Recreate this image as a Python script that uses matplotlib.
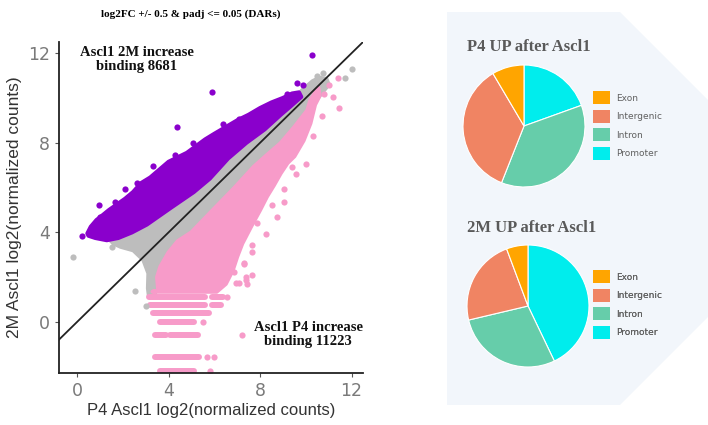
import matplotlib
matplotlib.use("Agg")
import matplotlib.pyplot as plt
from matplotlib.patches import Polygon, Patch

# ---------------- scatter data (log2 normalized counts) ----------------
# Dense clouds are drawn as filled outlines (P4 value, 2M value)
grey_outline_x = [1.3, 1.8, 2.4, 3.05, 4.1, 5.1, 5.8, 6.6, 7.4, 8.2, 8.9, 9.4, 9.9, 10.3, 10.6, 10.9,
                  11.0, 10.6, 10.0, 8.9, 7.7, 6.8, 5.8, 4.5, 4.0, 3.6, 3.45, 3.4, 3.15, 3.1, 3.12,
                  2.9, 2.46, 1.9, 1.6, 1.45]
grey_outline_y = [3.75, 3.85, 4.15, 4.5, 5.25, 5.95, 6.55, 7.45, 8.15, 8.75, 9.4, 9.9, 10.4, 10.75, 10.9, 10.85,
                  10.6, 10.1, 9.25, 7.85, 6.75, 5.75, 4.7, 3.35, 3.0, 2.4, 1.8, 1.2, 1.1, 1.5, 2.17,
                  2.77, 3.2, 3.36, 3.5, 3.65]

purple_outline_x = [0.45, 0.6, 0.85, 1.1, 1.4, 1.75, 2.1, 2.45, 2.8, 3.2, 3.6, 4.0, 4.4, 4.8, 5.2, 5.6,
                    6.0, 6.5, 7.0, 7.5, 8.0, 8.5, 9.0, 9.4, 9.7,
                    9.8, 9.3, 8.9, 8.2, 7.4, 6.6, 5.8, 5.1, 4.1, 3.05, 2.4, 1.8, 1.3, 0.8, 0.5]
purple_outline_y = [3.95, 4.25, 4.55, 4.75, 5.0, 5.25, 5.5, 5.8, 6.2, 6.45, 6.8, 7.15, 7.35, 7.55, 7.85, 8.15,
                    8.4, 8.7, 9.0, 9.25, 9.55, 9.8, 10.0, 10.2, 10.25,
                    10.05, 9.6, 9.25, 8.6, 8.0, 7.3, 6.4, 5.8, 5.1, 4.35, 4.0, 3.75, 3.65, 3.75, 3.85]

pink_outline_x = [10.55, 10.2, 10.07, 9.5, 8.9, 8.3, 7.73, 6.85, 5.83, 5.0, 4.4, 4.0, 3.64, 3.5, 3.55, 3.3,
                  6.1, 6.5, 6.8, 7.0, 7.22, 7.6, 8.0, 8.3, 8.6, 8.9, 9.2, 9.5, 9.9, 10.2, 10.4, 10.6]
pink_outline_y = [10.45, 9.9, 9.45, 8.7, 7.98, 7.45, 6.93, 5.95, 4.88, 4.0, 3.6, 3.1, 2.46, 2.0, 1.4, 1.35,
                  1.35, 1.7, 2.3, 2.92, 3.5, 4.25, 5.0, 5.6, 6.1, 6.64, 7.1, 7.4, 8.1, 8.87, 9.7, 10.1]

# Low-count peaks sit on discrete 2M levels (rows of points)
pink_row_y = [1.12, 1.12, 0.76, 0.76, 0.40, 0.0, -0.60, -0.60, -1.57, -2.17]
pink_row_x0 = [3.15, 5.9, 3.2, 5.9, 3.33, 3.64, 3.4, 4.05, 3.42, 3.64]
pink_row_x1 = [5.6, 6.4, 5.6, 6.3, 5.75, 5.1, 3.9, 5.3, 5.32, 5.1]

# Isolated peaks
purple_pts_x = [10.26, 5.9, 4.37, 0.2, 0.94, 1.67, 2.1, 9.6, 9.86, 9.17, 6.4, 7.1, 5.07, 4.8, 3.3, 2.6,
                2.76, 3.2, 4.3, 1.0, 0.64]
purple_pts_y = [11.92, 10.25, 8.72, 3.84, 5.22, 5.37, 5.92, 10.65, 10.58, 10.16, 8.84, 9.05, 8.0, 7.45, 6.95, 6.2,
                6.1, 6.34, 7.45, 4.7, 4.18]
grey_pts_x = [-0.16, 1.52, 2.54, 3.03, 11.7, 12.0, 10.5, 10.75]
grey_pts_y = [2.92, 3.33, 1.4, 0.71, 10.9, 11.3, 11.0, 11.1]
pink_pts_x = [11.4, 11.2, 11.45, 10.8, 11.0, 10.0, 9.56, 9.05, 9.05, 8.76, 8.25, 7.88, 7.66, 7.3, 7.66,
              7.41, 6.93, 7.22, 7.37, 7.07, 5.5, 5.69, 5.98, 5.8, 10.7, 10.3, 9.4, 8.5,
              7.5, 7.66, 7.3, 6.86, 6.56, 7.37]
pink_pts_y = [10.88, 10.06, 9.55, 10.2, 10.6, 7.05, 6.6, 5.92, 5.37, 4.7, 3.93, 4.43, 3.44, 2.65, 2.1,
              1.7, 1.73, -0.58, 2.0, 1.73, 0.0, -1.57, -1.57, -2.17, 9.2, 8.3, 6.9, 5.2,
              4.33, 3.14, 2.6, 2.25, 1.13, 1.88]

up_2m_label = "Ascl1 2M increase\nbinding 8681"
up_p4_label = "Ascl1 P4 increase\nbinding 11223"

# ---------------- genomic annotation of up peaks ----------------
anno_cats = ["Exon", "Intergenic", "Intron", "Promoter"]
anno_colors = ["#ffa500", "#f08463", "#66cdaa", "#00eded"]
pie_order = ["Promoter", "Intron", "Intergenic", "Exon"]
p4_up_pct = [19.5, 36.5, 35.5, 8.5]
m2_up_pct = [42.9, 28.4, 23.0, 5.7]

C_PURPLE = "#8a00cc"
C_GREY = "#bdbdbd"
C_PINK = "#f79bc9"

fig = plt.figure(figsize=(7.08, 4.25), dpi=100)

# ---------------- right panel: pies ----------------
panel = fig.add_axes([0, 0, 1, 1])
panel.set_xlim(0, 708)
panel.set_ylim(0, 425)
panel.set_axis_off()
panel.add_patch(Polygon([(447, 413), (620, 413), (712, 321), (712, 112), (620, 20), (447, 20)],
                        closed=True, facecolor="#f2f6fb", edgecolor="none", zorder=0))

color_of = dict(zip(anno_cats, anno_colors))
pie_colors = [color_of[c] for c in pie_order]
handles = [Patch(facecolor=c, edgecolor="none", label=l) for l, c in zip(anno_cats, anno_colors)]

for vals, cx, cy, title, ty, ly in [
    (p4_up_pct, 524, 299, "P4 UP after Ascl1", 378, 334),
    (m2_up_pct, 528, 119, "2M UP after Ascl1", 197, 155),
]:
    panel.pie(vals, colors=pie_colors, startangle=90, counterclock=False,
              center=(cx, cy), radius=61, frame=True,
              wedgeprops=dict(edgecolor="white", linewidth=0.8))
    panel.text(467, ty, title, fontsize=12, fontweight="bold", family="Liberation Serif",
               color="#5a5a5a", ha="left", va="center")
    leg = panel.legend(handles=handles, loc="upper left", bbox_to_anchor=(593 / 708, ly / 425),
                       frameon=False, prop={"family": "DejaVu Sans", "size": 6.5},
                       labelcolor="#606060", handlelength=1.9, handleheight=1.9,
                       labelspacing=0.57, handletextpad=0.7, borderpad=0, borderaxespad=0)
    panel.add_artist(leg)

panel.set_xlim(0, 708)
panel.set_ylim(0, 425)
panel.set_aspect("auto")

# ---------------- left panel: scatter ----------------
ax = fig.add_axes([59 / 708, 52 / 425, 304 / 708, 331 / 425])
ax.set_xlim(-0.79, 12.5)
ax.set_ylim(-2.28, 12.5)

for xs, ys, col in [(grey_outline_x, grey_outline_y, C_GREY),
                    (purple_outline_x, purple_outline_y, C_PURPLE),
                    (pink_outline_x, pink_outline_y, C_PINK)]:
    ax.add_patch(Polygon(list(zip(xs, ys)), closed=True, facecolor=col, edgecolor=col,
                         linewidth=3, joinstyle="round", zorder=2))

for y, x0, x1 in zip(pink_row_y, pink_row_x0, pink_row_x1):
    ax.plot([x0, x1], [y, y], color=C_PINK, lw=4.3, solid_capstyle="round", zorder=2)

ax.scatter(grey_pts_x, grey_pts_y, s=20, color=C_GREY, linewidths=0, zorder=2)
ax.scatter(purple_pts_x, purple_pts_y, s=20, color=C_PURPLE, linewidths=0, zorder=2)
ax.scatter(pink_pts_x, pink_pts_y, s=20, color=C_PINK, linewidths=0, zorder=2)

ax.axline((0, 0), slope=1, color="#222222", lw=1.3, zorder=3)

ax.set_xticks([0, 4, 8, 12])
ax.set_yticks([0, 4, 8, 12])
for side in ["top", "right"]:
    ax.spines[side].set_visible(False)
for side in ["left", "bottom"]:
    ax.spines[side].set_color("#222222")
    ax.spines[side].set_linewidth(1.3)
ax.tick_params(direction="out", length=3, width=0.8, color="#555555",
               labelcolor="#7a7a7a", labelsize=12.5)
ax.set_xlabel("P4 Ascl1 log2(normalized counts)", fontsize=12, color="#333333",
              family="Liberation Sans", labelpad=2)
ax.set_ylabel("2M Ascl1 log2(normalized counts)", fontsize=12.5, color="#333333",
              family="Liberation Sans", labelpad=4)

ax.text(2.6, 11.72, up_2m_label, fontsize=10.5, fontweight="bold", family="Liberation Serif",
        ha="center", va="center", linespacing=1.15, color="#111111", zorder=4)
ax.text(10.1, -0.55, up_p4_label, fontsize=10.5, fontweight="bold", family="Liberation Serif",
        ha="center", va="center", linespacing=1.15, color="#111111", zorder=4)

fig.text(191 / 708, 1 - 14 / 425, "log2FC +/- 0.5 & padj <= 0.05 (DARs)", fontsize=8,
         fontweight="bold", family="Liberation Serif", ha="center", va="center")

fig.savefig("out.png", dpi=100)
